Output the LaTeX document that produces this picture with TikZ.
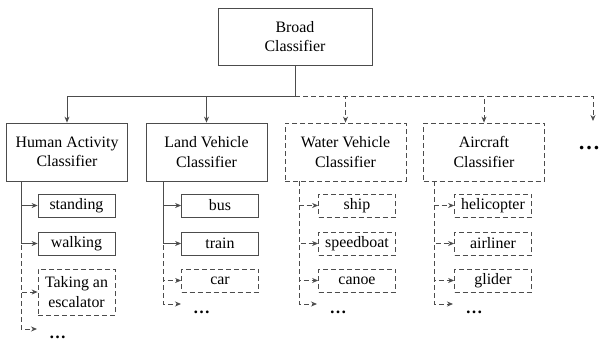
\documentclass[tikz,border=0pt]{standalone}
\usepackage{fontspec}
\setmainfont{Liberation Serif}
\newfontfamily\labelfont{Liberation Serif}
\usetikzlibrary{arrows.meta}

\tikzset{
    box/.style={draw=black!70, line width=0.8pt, inner sep=0pt, align=center,
        font=\labelfont\fontsize{15.9}{19.5}\selectfont},
    clsbox/.style={box, minimum width=121pt, minimum height=58pt},
    itembox/.style={box, minimum width=77pt, minimum height=23pt},
    dashline/.style={dash pattern=on 5pt off 3pt},
    link/.style={draw=black!70, line width=0.8pt, -{Stealth[length=6pt,width=5pt]}},
    dots/.style={inner sep=0pt, font=\labelfont\fontsize{17}{19.5}\selectfont\bfseries}
}

\begin{document}
\begin{tikzpicture}[x=1pt, y=-1pt]
        \useasboundingbox (0,0) rectangle (606,341);
        % top level
        \node[box, minimum width=154pt, minimum height=57pt] (broad) at (295,36.5) {Broad\\Classifier};
        \coordinate (split) at (295,96);
        \draw[draw=black!70, line width=0.8pt] (broad.south) -- (split);
        % second level
        \node[clsbox] (human) at (67,152) {Human Activity\\Classifier};
        \node[clsbox] (land) at (206.5,152) {Land Vehicle\\Classifier};
        \node[clsbox, dashline] (water) at (345.5,152) {Water Vehicle\\Classifier};
        \node[clsbox, dashline] (air) at (484,152) {Aircraft\\Classifier};
        \coordinate (moretop) at (593,121);
        \node[dots, font=\labelfont\fontsize{22}{22}\selectfont\bfseries] (moredots) at (589,148) {\dots};
        \draw[link] (split) -| (human.north);
        \draw[link] (split) -| (land.north);
        \draw[link, dashline] (split) -| (water.north);
        \draw[link, dashline] (split) -| (air.north);
        \draw[link, dashline] (split) -| (moretop);
        % human activity
        \coordinate (humanroot) at (21,181);
        \node[itembox] (standing) at (76.5,205.5) {standing};
        \node[itembox] (walking) at (76.5,243.5) {walking};
        \node[itembox, dashline, minimum height=46pt] (escalator) at (76.5,292) {Taking an\\escalator};
        \coordinate (humanend) at (37,329);
        \node[dots] (humandots) at (57.5,337) {\dots};
        \draw[link, dashline] (humanroot) |- (escalator.west);
        \draw[link, dashline] (humanroot) |- (humanend);
        \draw[link] (humanroot) |- (standing.west);
        \draw[link] (humanroot) |- (walking.west);
        % land vehicle
        \coordinate (landroot) at (163,181);
        \node[itembox] (bus) at (220,205.5) {bus};
        \node[itembox] (train) at (220,243.5) {train};
        \node[itembox, dashline] (car) at (220,280.5) {car};
        \coordinate (landend) at (181,304);
        \node[dots] (landdots) at (201.5,312) {\dots};
        \draw[link, dashline] (landroot) |- (car.west);
        \draw[link, dashline] (landroot) |- (landend);
        \draw[link] (landroot) |- (bus.west);
        \draw[link] (landroot) |- (train.west);
        % water vehicle
        \coordinate (waterroot) at (299,181);
        \node[itembox, dashline] (ship) at (357,205.5) {ship};
        \node[itembox, dashline] (speedboat) at (357,243.5) {speedboat};
        \node[itembox, dashline] (canoe) at (357,280.5) {canoe};
        \coordinate (waterend) at (317,304);
        \node[dots] (waterdots) at (338,312) {\dots};
        \draw[link, dashline] (waterroot) |- (ship.west);
        \draw[link, dashline] (waterroot) |- (speedboat.west);
        \draw[link, dashline] (waterroot) |- (canoe.west);
        \draw[link, dashline] (waterroot) |- (waterend);
        % aircraft
        \coordinate (airroot) at (434,181);
        \node[itembox, dashline] (helicopter) at (493,205.5) {helicopter};
        \node[itembox, dashline] (airliner) at (493,243.5) {airliner};
        \node[itembox, dashline] (glider) at (493,280.5) {glider};
        \coordinate (airend) at (453,304);
        \node[dots] (airdots) at (474,312) {\dots};
        \draw[link, dashline] (airroot) |- (helicopter.west);
        \draw[link, dashline] (airroot) |- (airliner.west);
        \draw[link, dashline] (airroot) |- (glider.west);
        \draw[link, dashline] (airroot) |- (airend);
\end{tikzpicture}
\end{document}
